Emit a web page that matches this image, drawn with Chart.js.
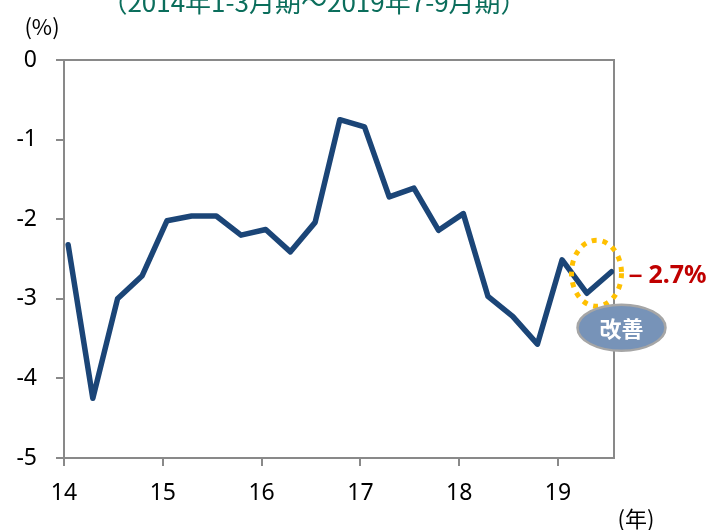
<!DOCTYPE html>
<html>
<head>
<meta charset="utf-8">
<script src="https://cdn.jsdelivr.net/npm/chart.js@4"></script>
<style>
  html, body { margin: 0; padding: 0; background: #fff; }
  #wrap { width: 724px; height: 530px; position: relative; }
</style>
</head>
<body>
<div id="wrap"><canvas id="grafico"></canvas></div>
<script>
// 四半期ごとの値 (2014年1-3月期～2019年7-9月期)
const years    = [2014,2014,2014,2014, 2015,2015,2015,2015, 2016,2016,2016,2016, 2017,2017,2017,2017, 2018,2018,2018,2018, 2019,2019,2019];
const quarters = [1,2,3,4, 1,2,3,4, 1,2,3,4, 1,2,3,4, 1,2,3,4, 1,2,3];
const values   = [-2.32,-4.25,-3.00,-2.71, -2.02,-1.96,-1.96,-2.20, -2.13,-2.41,-2.04,-0.75, -0.84,-1.72,-1.61,-2.14, -1.93,-2.97,-3.22,-3.57, -2.51,-2.93,-2.66];
const yearTicks = [14, 15, 16, 17, 18, 19];
const lastLabel = '－2.7%';
const noteLabel = '改善';
const titleText = '（2014年1-3月期～2019年7-9月期）';

const pontos = values.map((v, i) => ({ x: years[i] - 2000 + (quarters[i] - 1) / 4 + 1 / 24, y: v }));

const gray = '#898989';
const numFont = "'Noto Sans', 'Liberation Sans', sans-serif";
const jpFont = "'Noto Sans CJK JP', sans-serif";

// anotações e bordas extras
const extras = {
  id: 'extras',
  beforeDatasetsDraw(chart) {
    const { ctx, chartArea: a } = chart;
    ctx.save();
    ctx.strokeStyle = gray;
    ctx.lineWidth = 2;
    ctx.beginPath();
    ctx.moveTo(a.left, a.top);
    ctx.lineTo(a.right, a.top);
    ctx.lineTo(a.right, a.bottom);
    ctx.stroke();
    ctx.restore();
  },
  afterDraw(chart) {
    const { ctx } = chart;
    const xs = chart.scales.x, ys = chart.scales.y;
    const last = pontos[pontos.length - 1];
    const px = xs.getPixelForValue(last.x);
    const py = ys.getPixelForValue(last.y);
    ctx.save();

    // título (cortado no topo)
    ctx.fillStyle = '#0b6e5c';
    ctx.font = '26px ' + jpFont;
    ctx.textAlign = 'center';
    ctx.textBaseline = 'alphabetic';
    ctx.fillText(titleText, 314, 12);

    ctx.fillStyle = '#000';
    ctx.font = '22px ' + jpFont;
    ctx.textBaseline = 'middle';
    ctx.fillText('(%)', 42, 27);
    ctx.fillText('(年)', 636, 519);

    // elipse pontilhada
    ctx.strokeStyle = '#ffc000';
    ctx.lineWidth = 5;
    ctx.setLineDash([5, 6]);
    ctx.beginPath();
    ctx.ellipse(px - 15, py + 1.5, 25, 33, 0, 0, Math.PI * 2);
    ctx.stroke();
    ctx.setLineDash([]);

    // rótulo do último valor
    ctx.fillStyle = '#c00000';
    ctx.font = 'bold 25px ' + numFont;
    ctx.textAlign = 'left';
    ctx.fillText(lastLabel, px + 12, py + 4);

    // balão "改善"
    const cx = px + 10, cy = py + 56;
    ctx.beginPath();
    ctx.ellipse(cx, cy, 44, 23, 0, 0, Math.PI * 2);
    ctx.fillStyle = '#7793b8';
    ctx.fill();
    ctx.strokeStyle = '#a6a6a6';
    ctx.lineWidth = 2.5;
    ctx.stroke();
    ctx.fillStyle = '#fff';
    ctx.font = 'bold 22px ' + jpFont;
    ctx.textAlign = 'center';
    ctx.fillText(noteLabel, cx, cy + 1);
    ctx.restore();
  }
};

new Chart(document.getElementById('grafico'), {
  type: 'line',
  data: {
    datasets: [{
      data: pontos,
      borderColor: '#1b4577',
      borderWidth: 5.5,
      borderJoinStyle: 'round',
      borderCapStyle: 'round',
      pointRadius: 0,
      fill: false,
      tension: 0
    }]
  },
  options: {
    responsive: true,
    maintainAspectRatio: false,
    animation: false,
    layout: { padding: { top: 60, right: 110, left: 0, bottom: 0 } },
    plugins: { legend: { display: false }, tooltip: { enabled: false } },
    scales: {
      x: {
        type: 'linear',
        min: 14,
        max: 19.567,
        afterFit(s) { s.height = 72; },
        afterBuildTicks(s) { s.ticks = yearTicks.map(v => ({ value: v })); },
        ticks: {
          includeBounds: false,
          color: '#000',
          font: { family: numFont, size: 23 },
          padding: 14,
          callback: v => String(v)
        },
        grid: { drawOnChartArea: false, drawTicks: true, tickLength: 8, color: gray, lineWidth: 2 },
        border: { color: gray, width: 2 }
      },
      y: {
        min: -5,
        max: 0,
        afterFit(s) { s.width = 64; },
        ticks: {
          stepSize: 1,
          color: '#000',
          font: { family: numFont, size: 23 },
          padding: 19,
          callback: v => String(v)
        },
        grid: { drawOnChartArea: false, drawTicks: true, tickLength: 8, color: gray, lineWidth: 2 },
        border: { color: gray, width: 2 }
      }
    }
  },
  plugins: [extras]
});
</script>
</body>
</html>
